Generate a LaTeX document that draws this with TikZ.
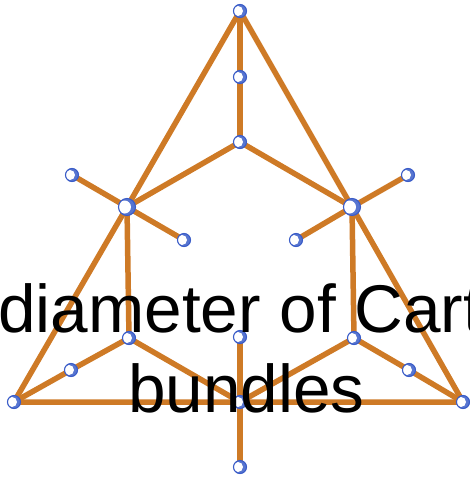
\documentclass[tikz,border=0pt]{standalone}
\usepackage{fontspec}
\setmainfont{Liberation Sans}
\definecolor{edgeor}{RGB}{206,122,38}
\definecolor{vblue}{RGB}{58,92,200}
\tikzset{
  vtx/.style={circle, draw=vblue, line width=1.1pt, fill=white, minimum size=13pt, inner sep=0pt,
    path picture={
      \fill[vblue!85] (path picture bounding box.south west) rectangle (path picture bounding box.north east);
      \fill[white] ([xshift=-2pt]path picture bounding box.center) circle (5pt);
    }},
  bigvtx/.style={vtx, minimum size=17pt,
    path picture={
      \fill[vblue!85] (path picture bounding box.south west) rectangle (path picture bounding box.north east);
      \fill[white] ([xshift=-2.5pt]path picture bounding box.center) circle (6.5pt);
    }},
  edge/.style={draw=edgeor, line width=5.5pt},
  lbl/.style={font=\fontsize{67.5}{72}\selectfont, inner sep=0pt, text=black}
}
\begin{document}
\begin{tikzpicture}[x=1pt,y=-1pt]
\useasboundingbox (0,0) rectangle (470,482);
\coordinate (T) at (240,11);
\coordinate (M1) at (240,77);
\coordinate (C) at (240,142);
\coordinate (L) at (127,207);
\coordinate (R) at (352,207);
\coordinate (La) at (72,175);
\coordinate (Lb) at (184,240);
\coordinate (Ra) at (408,175);
\coordinate (Rb) at (296,240);
\coordinate (BL) at (14,402);
\coordinate (BR) at (463,402);
\coordinate (LM) at (129,338);
\coordinate (RM) at (354,338);
\coordinate (Ls) at (71,370);
\coordinate (Rs) at (409,370);
\coordinate (Bt) at (240,337);
\coordinate (Bc) at (240,402);
\coordinate (Bb) at (240,467);
% edges
\draw[edge] (T) -- (L) -- (BL) -- (Bc) -- (BR) -- (R) -- (T);
\draw[edge] (T) -- (M1) -- (C);
\draw[edge] (C) -- (L);
\draw[edge] (C) -- (R);
\draw[edge] (L) -- (La);
\draw[edge] (L) -- (Lb);
\draw[edge] (R) -- (Ra);
\draw[edge] (R) -- (Rb);
\draw[edge] (L) -- (LM);
\draw[edge] (R) -- (RM);
\draw[edge] (BL) -- (Ls) -- (LM) -- (Bc);
\draw[edge] (BR) -- (Rs) -- (RM) -- (Bc);
\draw[edge] (Bt) -- (Bc) -- (Bb);
% vertices
\foreach \v in {T,M1,C,La,Lb,Ra,Rb,BL,BR,LM,RM,Ls,Rs,Bt,Bc,Bb}
  \node[vtx] (n\v) at (\v) {};
\node[bigvtx] (nL) at (L) {};
\node[bigvtx] (nR) at (R) {};
% labels
\node[lbl, anchor=base west] (t1) at (-2,332) {diameter of Cart};
\node[lbl, anchor=base] (t2) at (246.5,412) {bundles};
\end{tikzpicture}
\end{document}
